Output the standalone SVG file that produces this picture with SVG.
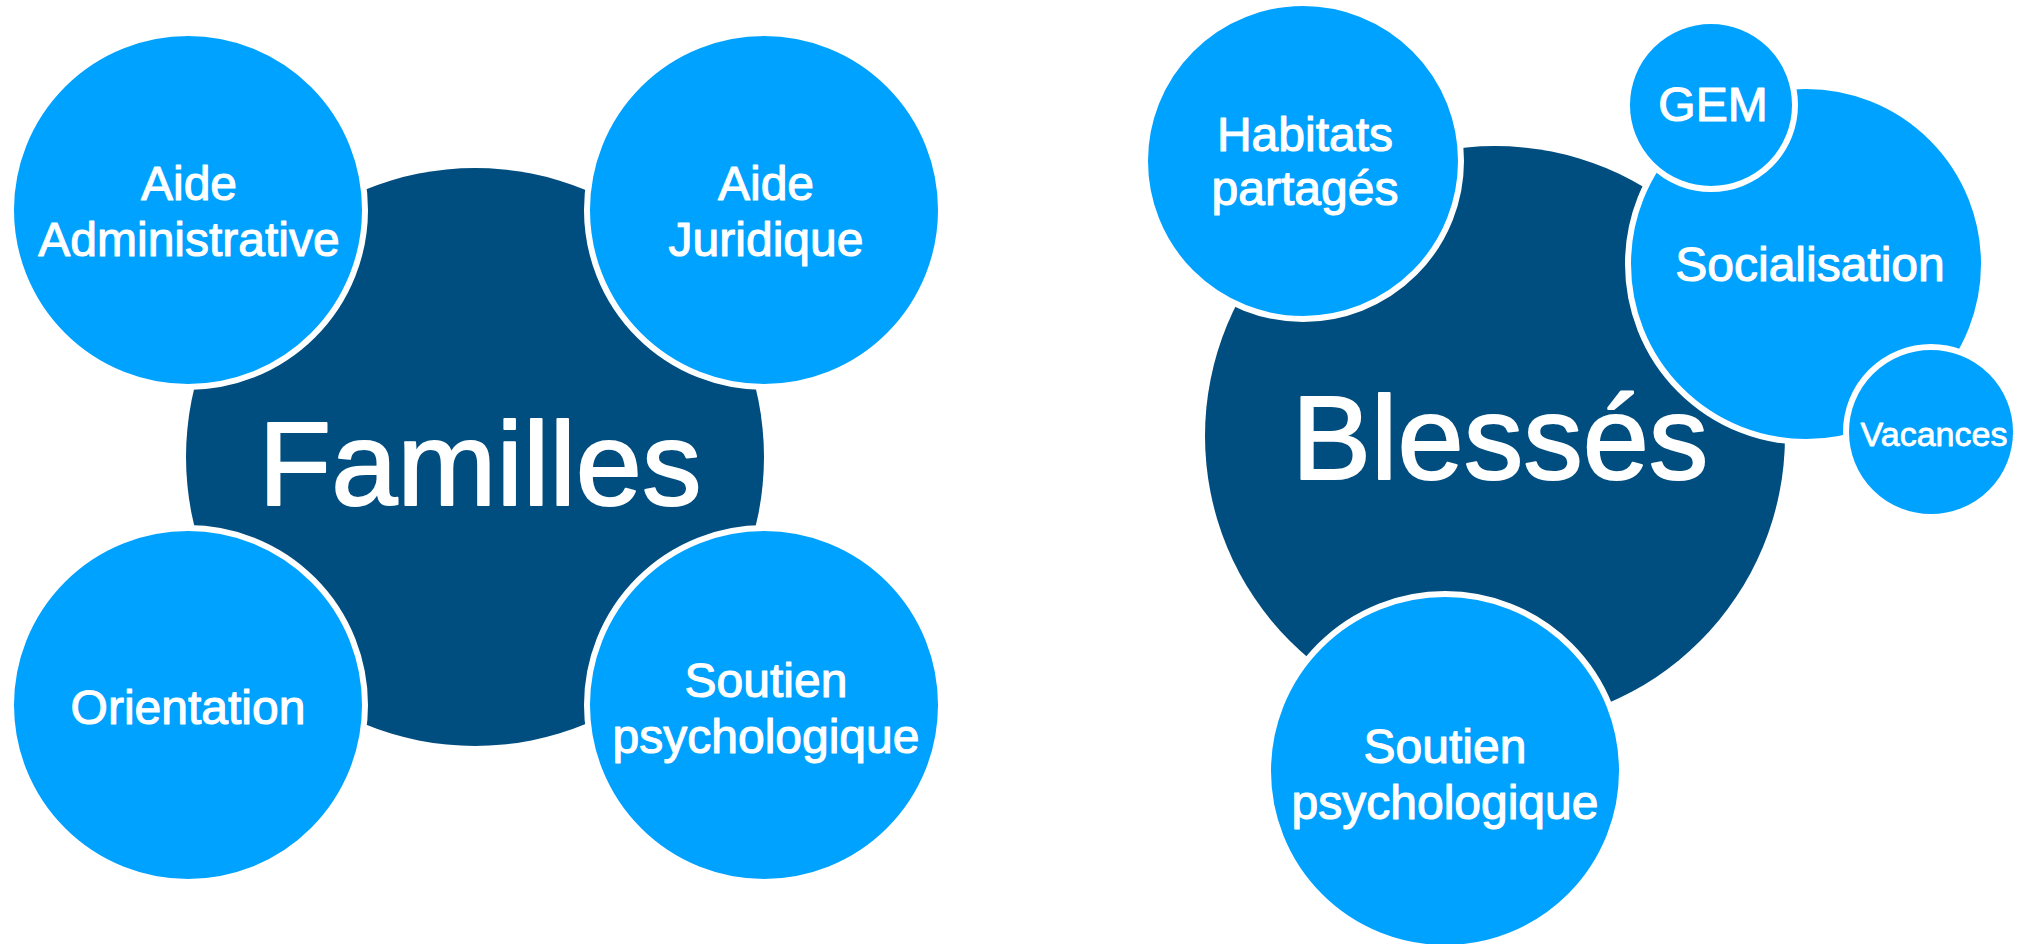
<svg xmlns="http://www.w3.org/2000/svg" width="2022" height="944" viewBox="0 0 2022 944">
<style>
.big{fill:#004D7F}
.sm{fill:#00A2FF;stroke:#FFFFFF;stroke-width:6}
text{font-family:"Liberation Sans",Arial,sans-serif;fill:#FFFFFF;stroke:#FFFFFF;stroke-linejoin:round;text-anchor:middle}
.t{font-size:48px;stroke-width:1.1}
.tb{font-size:119px;stroke-width:2}
.tv{font-size:34px;stroke-width:0.8}
</style>
<rect width="2022" height="944" fill="#FFFFFF"/>
<g id="connectors"></g>
<g id="familles">
<circle class="big" cx="475" cy="457" r="289"/>
<text class="tb" x="480" y="505">Familles</text>
</g>
<g id="aide-administrative">
<circle class="sm" cx="188" cy="210" r="177"/>
<text class="t" x="189" y="200">Aide</text>
<text class="t" x="189" y="256">Administrative</text>
</g>
<g id="aide-juridique">
<circle class="sm" cx="764" cy="210" r="177"/>
<text class="t" x="766" y="200">Aide</text>
<text class="t" x="766" y="256">Juridique</text>
</g>
<g id="orientation">
<circle class="sm" cx="188" cy="705" r="177"/>
<text class="t" x="188" y="724">Orientation</text>
</g>
<g id="soutien-familles">
<circle class="sm" cx="764" cy="705" r="177"/>
<text class="t" x="766" y="697">Soutien</text>
<text class="t" x="766" y="753">psychologique</text>
</g>
<g id="blesses">
<circle class="big" cx="1495" cy="436" r="290"/>
<text class="tb" x="1500" y="479">Blessés</text>
</g>
<g id="habitats">
<circle class="sm" cx="1303" cy="161" r="158"/>
<text class="t" x="1305" y="151">Habitats</text>
<text class="t" x="1305" y="205">partagés</text>
</g>
<g id="socialisation">
<circle class="sm" cx="1806" cy="264" r="178"/>
<text class="t" x="1810" y="281">Socialisation</text>
</g>
<g id="gem">
<circle class="sm" cx="1711" cy="105" r="84"/>
<text class="t" x="1713" y="121">GEM</text>
</g>
<g id="vacances">
<circle class="sm" cx="1931" cy="432" r="85"/>
<text class="tv" x="1934" y="446">Vacances</text>
</g>
<g id="soutien-blesses">
<circle class="sm" cx="1445" cy="771" r="177"/>
<text class="t" x="1445" y="763">Soutien</text>
<text class="t" x="1445" y="819">psychologique</text>
</g>
</svg>
